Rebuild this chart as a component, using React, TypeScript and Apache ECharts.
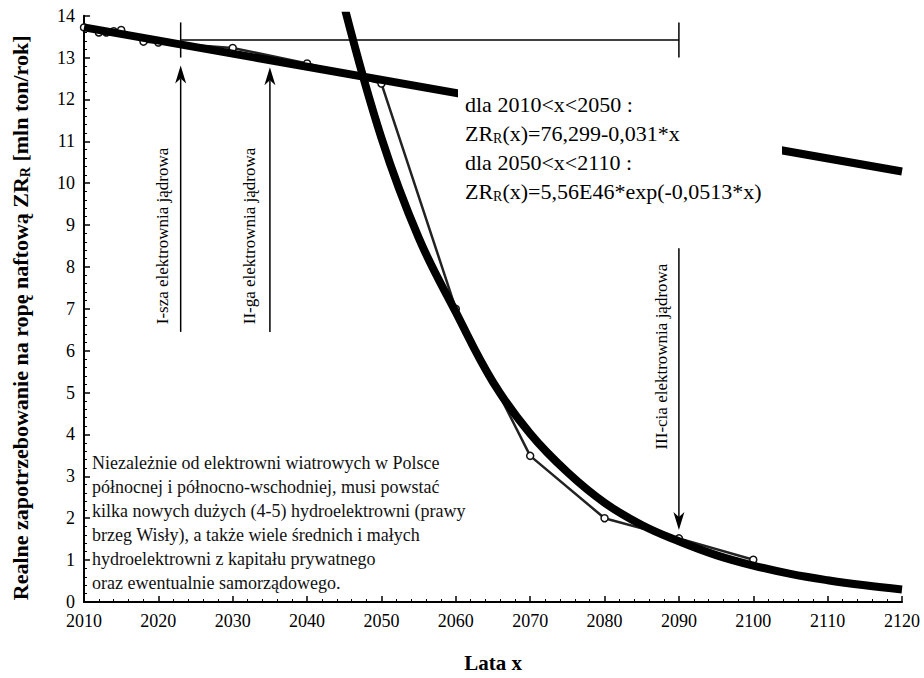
import React, { useEffect, useRef } from "react";
import * as echarts from "echarts";

const FONT = "Liberation Serif";

// Axis settings
const X_MIN = 2010;
const X_MAX = 2120;
const X_STEP = 10;
const Y_MIN = 0;
const Y_MAX = 14;
const Y_STEP = 1;

// Observed demand (thin line with circles)
const demandYears = [2010, 2012, 2013, 2014, 2015, 2018, 2020, 2030, 2040, 2050, 2060, 2070, 2080, 2090, 2100];
const demandValues = [13.72, 13.6, 13.6, 13.63, 13.66, 13.38, 13.36, 13.23, 12.86, 12.38, 7.0, 3.49, 2.0, 1.52, 1.01];

// Linear trend (thick straight line)
const linearYears = [2010, 2120];
const linearValues = [13.72, 10.28];

// Exponential trend (thick curve)
const expYears = [2045, 2050, 2055, 2060, 2065, 2070, 2075, 2080, 2085, 2090, 2095, 2100, 2105, 2110, 2115, 2120];
const expValues = [14.22, 11.08, 8.7, 6.92, 5.25, 4.02, 3.1, 2.37, 1.84, 1.45, 1.12, 0.87, 0.67, 0.52, 0.4, 0.3];

// Annotations (data coordinates)
const plantYears = [2023, 2035, 2090];
const plantArrowFrom = [6.45, 6.45, 8.45];
const plantArrowTo = [12.81, 12.77, 1.72];
const plantLabels = ["I-sza elektrownia jądrowa", "II-ga elektrownia jądrowa", "III-cia elektrownia jądrowa"];
const plantLabelX = [2020.5, 2032.2, 2087.7];
const plantLabelY = [8.74, 8.74, 5.86];

const spanYears = [2023, 2090];
const spanValue = 13.42;
const spanCap = [13.0, 13.84];

const formulaLines = [
  "dla 2010<x<2050 :",
  "ZR{s|R}(x)=76,299-0,031*x",
  "dla 2050<x<2110 :",
  "ZR{s|R}(x)=5,56E46*exp(-0,0513*x)",
];

const noteLines = [
  "Niezależnie od elektrowni wiatrowych w Polsce",
  "północnej i północno-wschodniej, musi powstać",
  "kilka nowych dużych (4-5) hydroelektrowni (prawy",
  "brzeg Wisły), a także wiele średnich i małych",
  "hydroelektrowni z kapitału prywatnego",
  "oraz ewentualnie samorządowego.",
];

const zip = (xs: number[], ys: number[]) => xs.map((x, i) => [x, ys[i]]);

export default function App() {
  const ref = useRef<HTMLDivElement>(null);

  useEffect(() => {
    if (!ref.current) return;
    const chart = echarts.init(ref.current, null, { renderer: "svg" });

    const axisCommon = {
      axisLine: { show: true, onZero: false, lineStyle: { color: "#000", width: 2 } },
      axisTick: { show: true, inside: true, length: 6, lineStyle: { color: "#000", width: 1.5 } },
      minorTick: { show: true, splitNumber: 5, length: 3, lineStyle: { color: "#000", width: 1 } },
      splitLine: { show: false },
    };

    chart.setOption({
      animation: false,
      backgroundColor: "#fff",
      textStyle: { fontFamily: FONT },
      grid: { left: 72, right: 22, top: 15.7, bottom: 65, containLabel: false },
      xAxis: {
        type: "value",
        min: X_MIN,
        max: X_MAX,
        interval: X_STEP,
        name: "Lata x",
        nameLocation: "middle",
        nameGap: 50,
        nameTextStyle: { fontFamily: FONT, fontSize: 21, fontWeight: "bold", color: "#000" },
        axisLabel: { fontFamily: FONT, fontSize: 18, color: "#000", margin: 10, formatter: (v: number) => String(v) },
        ...axisCommon,
      },
      yAxis: {
        type: "value",
        min: Y_MIN,
        max: Y_MAX,
        interval: Y_STEP,
        name: "Realne zapotrzebowanie na ropę naftową ZR{s|R} [mln ton/rok]",
        nameLocation: "middle",
        nameGap: 52,
        nameTextStyle: {
          fontFamily: FONT,
          fontSize: 22,
          fontWeight: "bold",
          color: "#000",
          lineHeight: 24,
          padding: [0, 18, 0, 0],
          rich: {
            s: { fontFamily: FONT, fontSize: 14, fontWeight: "bold", color: "#000", verticalAlign: "bottom", lineHeight: 14 },
          },
        },
        axisLabel: { fontFamily: FONT, fontSize: 18, color: "#000", margin: 9, formatter: (v: number) => String(v) },
        ...axisCommon,
      },
      series: [
        {
          type: "line",
          name: "demand",
          data: zip(demandYears, demandValues),
          symbol: "circle",
          symbolSize: 7,
          showSymbol: true,
          lineStyle: { color: "#222", width: 2.5 },
          itemStyle: { color: "#fff", borderColor: "#111", borderWidth: 1.5 },
          z: 1,
          silent: true,
        },
        {
          type: "line",
          name: "linear",
          data: zip(linearYears, linearValues),
          showSymbol: false,
          lineStyle: { color: "#000", width: 8 },
          z: 2,
          silent: true,
        },
        {
          type: "line",
          name: "exp",
          data: zip(expYears, expValues),
          smooth: 0.4,
          showSymbol: false,
          clip: true,
          lineStyle: { color: "#000", width: 8 },
          z: 2,
          silent: true,
        },
      ],
    });

    const p = (x: number, y: number) => chart.convertToPixel({ gridIndex: 0 }, [x, y]) as number[];
    const g: any[] = [];
    const lineEl = (x1: number, y1: number, x2: number, y2: number, w = 1.5) => ({
      type: "line",
      z: 50,
      shape: { x1, y1, x2, y2 },
      style: { stroke: "#000", lineWidth: w },
      silent: true,
    });

    // span bar with end caps
    const [sx1, sy] = p(spanYears[0], spanValue);
    const [sx2] = p(spanYears[1], spanValue);
    const [, cTop] = p(spanYears[0], spanCap[1]);
    const [, cBot] = p(spanYears[0], spanCap[0]);
    g.push(lineEl(sx1, sy, sx2, sy));
    g.push(lineEl(sx1, cTop, sx1, cBot));
    g.push(lineEl(sx2, cTop, sx2, cBot));

    // arrows + rotated labels
    plantYears.forEach((yr, i) => {
      const [ax, ab] = p(yr, plantArrowFrom[i]);
      const [, at] = p(yr, plantArrowTo[i]);
      const dir = at < ab ? 1 : -1;
      const L = 18, W = 5.5, N = 13;
      g.push(lineEl(ax, ab, ax, at + dir * N));
      g.push({
        type: "polygon",
        z: 50,
        silent: true,
        shape: { points: [[ax, at], [ax - W, at + dir * L], [ax, at + dir * N], [ax + W, at + dir * L]] },
        style: { fill: "#000" },
      });
      const [lx, ly] = p(plantLabelX[i], plantLabelY[i]);
      g.push({
        type: "text",
        z: 50,
        silent: true,
        x: lx,
        y: ly,
        rotation: Math.PI / 2,
        style: {
          text: plantLabels[i],
          fontFamily: FONT,
          fontSize: 17,
          fill: "#000",
          align: "center",
          verticalAlign: "middle",
        },
      });
    });

    // formula box (white background hides part of the trend line)
    g.push({
      type: "rect",
      z: 40,
      silent: true,
      shape: { x: 458, y: 86, width: 324, height: 122 },
      style: { fill: "#fff" },
    });
    formulaLines.forEach((t, i) => {
      g.push({
        type: "text",
        z: 50,
        silent: true,
        x: 465,
        y: 104 + 29 * i,
        style: {
          text: t,
          fontFamily: FONT,
          fontSize: 22,
          fill: "#000",
          align: "left",
          verticalAlign: "middle",
          lineHeight: 24,
          rich: {
            s: { fontFamily: FONT, fontSize: 14, fill: "#000", verticalAlign: "bottom", lineHeight: 14 },
          },
        },
      });
    });

    noteLines.forEach((t, i) => {
      g.push({
        type: "text",
        z: 50,
        silent: true,
        x: 92,
        y: 463 + 23.9 * i,
        style: {
          text: t,
          fontFamily: FONT,
          fontSize: 18,
          fill: "#111",
          align: "left",
          verticalAlign: "middle",
        },
      });
    });

    chart.setOption({ graphic: g });

    return () => chart.dispose();
  }, []);

  return (
    <div
      ref={ref}
      style={{ position: "fixed", left: 0, top: 0, width: 924, height: 678, background: "#fff" }}
    />
  );
}
